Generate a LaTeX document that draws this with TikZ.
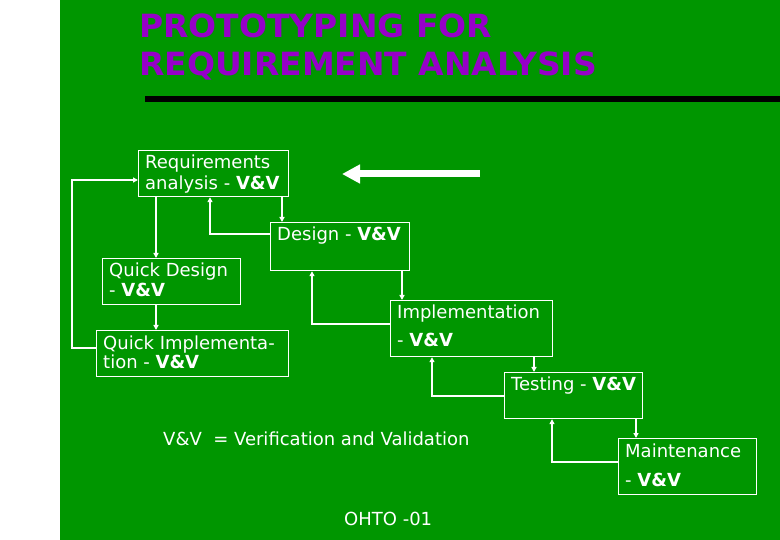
\documentclass[tikz,border=0pt]{standalone}
\usepackage{fontspec}
\setmainfont{DejaVu Sans}
\usetikzlibrary{arrows.meta}
\definecolor{bggreen}{RGB}{0,150,0}
\definecolor{titlepurple}{RGB}{150,0,200}
\tikzset{
  box/.style={draw=white, line width=1.2pt, anchor=north west, inner sep=0pt},
  lbl/.style={text=white, font=\fontsize{18}{21}\selectfont, anchor=base west, inner sep=0pt},
  title/.style={text=titlepurple, font=\bfseries\fontsize{32}{34}\selectfont, anchor=base west, inner sep=0pt, xscale=1.03},
  link/.style={draw=white, line width=1.5pt},
  arr/.style={link, -{Triangle[length=5pt,width=5pt]}},
  bigarr/.style={draw=white, line width=7pt, -{Triangle[length=18pt,width=18pt]}},
}
\begin{document}
\begin{tikzpicture}[x=1pt,y=-1pt]
\useasboundingbox (0,0) rectangle (780,540);
\fill[white] (0,0) rectangle (780,540);
\fill[bggreen] (60,0) rectangle (780,540);
% title
\node[title] (t1) at (139,38) {PROTOTYPING FOR};
\node[title] (t2) at (139,76) {REQUIREMENT ANALYSIS};
\fill[black] (145,96) rectangle (780,102);
% boxes
\node[box, minimum width=150pt, minimum height=46pt] (req) at (138,150) {};
\node[box, minimum width=139pt, minimum height=48pt] (des) at (270,222) {};
\node[box, minimum width=138pt, minimum height=46pt] (qd) at (102,258) {};
\node[box, minimum width=162pt, minimum height=56pt] (imp) at (390,300) {};
\node[box, minimum width=192pt, minimum height=46pt] (qi) at (96,330) {};
\node[box, minimum width=138pt, minimum height=46pt] (tst) at (504,372) {};
\node[box, minimum width=138pt, minimum height=56pt] (mnt) at (618,438) {};
% labels
\node[lbl] (l1) at (145,169) {Requirements};
\node[lbl] (l2) at (145,189.5) {analysis - \textbf{V\&V}};
\node[lbl] (l3) at (277,241) {Design - \textbf{V\&V}};
\node[lbl] (l4) at (109,277) {Quick Design};
\node[lbl] (l5) at (109,297) {- \textbf{V\&V}};
\node[lbl] (l6) at (397,319) {Implementation};
\node[lbl] (l7) at (397,347) {- \textbf{V\&V}};
\node[lbl] (l8) at (103,349) {Quick Implementa-};
\node[lbl] (l9) at (103,369) {tion - \textbf{V\&V}};
\node[lbl] (l10) at (511,391) {Testing - \textbf{V\&V}};
\node[lbl] (l11) at (625,457) {Maintenance};
\node[lbl] (l12) at (625,486) {- \textbf{V\&V}};
\node[lbl] (vv) at (163,446) {V\&V~ = Verification and Validation};
\node[lbl] (oh) at (344,525) {OHTO -01};
% connectors
\coordinate (c1) at (72,348);
\coordinate (c2) at (72,180);
\draw[arr] (qi.west |- c1) -- (c1) -- (c2) -- (req.west |- c2);
\draw[arr] (req.south -| 156,0) -- (qd.north -| 156,0);
\draw[arr] (qd.south -| 156,0) -- (qi.north -| 156,0);
\draw[arr] (req.south -| 282,0) -- (des.north -| 282,0);
\coordinate (d1) at (210,234);
\draw[arr] (des.west |- d1) -- (d1) -- (req.south -| d1);
\draw[arr] (des.south -| 402,0) -- (imp.north -| 402,0);
\coordinate (i1) at (312,324);
\draw[arr] (imp.west |- i1) -- (i1) -- (des.south -| i1);
\draw[arr] (imp.south -| 534,0) -- (tst.north -| 534,0);
\coordinate (s1) at (432,396);
\draw[arr] (tst.west |- s1) -- (s1) -- (imp.south -| s1);
\draw[arr] (tst.south -| 636,0) -- (mnt.north -| 636,0);
\coordinate (m1) at (552,462);
\draw[arr] (mnt.west |- m1) -- (m1) -- (tst.south -| m1);
% big arrow
\coordinate (b1) at (480,174);
\coordinate (b2) at (342,174);
\draw[bigarr] (b1) -- (b2);
\end{tikzpicture}
\end{document}
